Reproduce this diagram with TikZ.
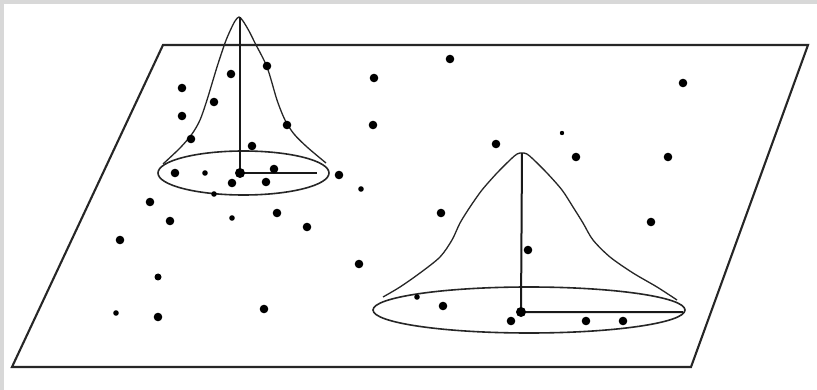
\documentclass[tikz,border=0pt]{standalone}
\usetikzlibrary{calc}
\definecolor{bordergray}{HTML}{D8D8D8}
\tikzset{
  frameline/.style={line width=2.1pt, black!85},
  bellline/.style={line width=1.3pt, black!85, line join=round},
  axisline/.style={line width=2.0pt, black!90},
  ringline/.style={line width=1.6pt, black!85},
  dotbig/.style={fill=black},
}
\newcommand{\pt}[2]{\fill[dotbig] (#1) circle (#2);}
\begin{document}
\begin{tikzpicture}[x=1pt,y=-1pt]
\useasboundingbox (0,0) rectangle (817,390);
\fill[white] (0,0) rectangle (817,390);
\fill[bordergray] (0,0) rectangle (817,4);
\fill[bordergray] (0,0) rectangle (4,390);

% plane
\coordinate (tl) at (163,45);
\coordinate (tr) at (808,45);
\coordinate (br) at (691,367);
\coordinate (bl) at (12,367);
\draw[frameline] (tl) -- (tr) -- (br) -- (bl) -- cycle;

% left kernel
\coordinate (c1) at (240,173);
\coordinate (a1) at (240,17);
\coordinate (r1) at (317,173);
\draw[ringline] (243.5,173) ellipse [x radius=85.5, y radius=22];
\draw[bellline] plot[smooth, tension=0.5] coordinates {
 (163,164) (180,148) (192,134) (200,120) (207,100) (217,67) (225,43) (230,31) (235,21) (239,17) (243,21) (249,31) (255,43) (267,67) (277,100) (285,120) (294,134) (307,147) (326,163)};
\draw[axisline] (a1) -- (c1) -- (r1);

% right kernel
\coordinate (c2) at (521,312);
\coordinate (a2) at (522,153);
\coordinate (r2) at (683,312);
\draw[ringline] (529,310) ellipse [x radius=156, y radius=23];
\draw[bellline] plot[smooth, tension=0.5] coordinates {
 (383,297) (400,287) (420,273) (440,257) (452,240) (460,223) (470,207) (482,190) (497,173) (510,160) (517,154) (522,153) (527,154) (534,160) (547,173) (562,190) (573,207) (583,223) (593,240) (610,257) (633,273) (657,287) (677,300)};
\draw[axisline] (a2) -- (c2) -- (r2);

% centre dots
\pt{c1}{5}
\pt{c2}{5}

% data points
\foreach \p in {
 (231,74),(182,88),(214,102),(182,116),(191,139),(267,66),(287,125),(252,146),
 (374,78),(373,125),(175,173),(274,169),(232,183),(266,182),(339,175),
 (150,202),(170,221),(277,213),(307,227),(120,240),(359,264),(158,317),(264,309),
 (450,59),(683,83),(496,144),(576,157),(668,157),(441,213),(651,222),
 (528,250),(443,306),(511,321),(586,321),(623,321)}
 {\fill \p circle (4.3);}
\foreach \p in {
 (205,173),(214,194),(361,189),(232,218),(116,313),(417,297)}
 {\fill \p circle (2.8);}
\fill (158,277) circle (3.5);
\fill (562,133) circle (2.2);
\end{tikzpicture}
\end{document}
